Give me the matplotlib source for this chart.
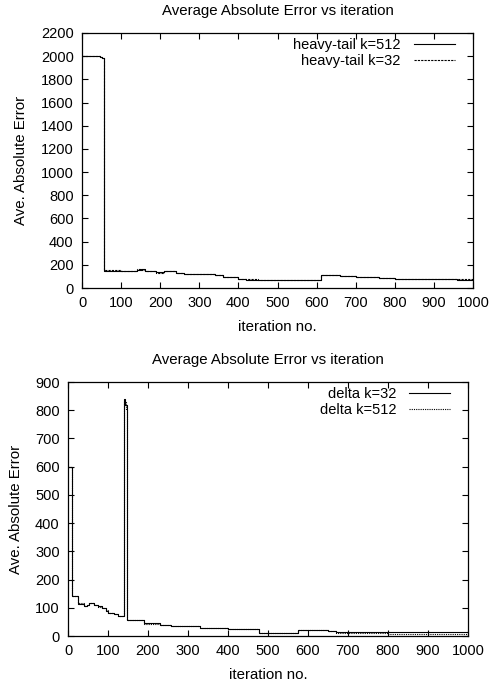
"""Average absolute error vs iteration, two gnuplot-style panels."""

import matplotlib

matplotlib.use("Agg")
import matplotlib.pyplot as plt  # noqa: E402

plt.rcParams["font.family"] = ["Liberation Sans", "DejaVu Sans"]

# heavy-tail panel: step breakpoints (iteration, error)
ht512_x = [0, 45, 50, 55, 100, 140, 150, 160, 190, 210, 240, 260, 300, 340, 360,
           400, 420, 450, 540, 600, 612, 660, 700, 760, 800, 880, 940, 960, 1000]
ht512_y = [2000, 1995, 1985, 150, 150, 155, 160, 148, 135, 145, 130, 120, 118, 110, 95,
           80, 72, 67, 70, 65, 110, 105, 95, 85, 80, 75, 80, 72, 72]
ht32_x = [0, 45, 50, 55, 100, 140, 150, 160, 190, 210, 240, 260, 300, 340, 360,
          400, 420, 450, 540, 600, 612, 660, 700, 760, 800, 880, 940, 960, 1000]
ht32_y = [2000, 1995, 1985, 152, 148, 160, 158, 150, 133, 148, 128, 122, 120, 112, 96,
          82, 74, 66, 72, 66, 112, 108, 98, 88, 82, 78, 82, 74, 74]

# delta panel
d32_x = [0, 9, 25, 40, 48, 52, 65, 75, 85, 95, 100, 115, 125, 139, 143, 148,
         190, 230, 258, 330, 400, 478, 575, 650, 670, 800, 1000]
d32_y = [600, 142, 115, 105, 110, 118, 110, 105, 100, 90, 80, 78, 70, 840, 820, 57,
         45, 40, 35, 30, 25, 10, 20, 17, 13, 15, 15]
d512_x = [0, 9, 25, 40, 48, 52, 65, 75, 85, 95, 100, 115, 125, 141, 145, 147,
          190, 230, 258, 330, 400, 478, 575, 650, 670, 800, 900, 1000]
d512_y = [600, 140, 117, 106, 111, 117, 111, 104, 99, 92, 82, 77, 71, 830, 800, 58,
          43, 40, 34, 30, 24, 11, 20, 16, 12, 8, 6, 6]

TITLE = "Average Absolute Error vs iteration"


def style_axes(ax, ymax, ystep):
    ax.set_xlim(0, 1000)
    ax.set_ylim(0, ymax)
    ax.set_xticks(range(0, 1001, 100))
    ax.set_yticks(range(0, ymax + 1, ystep))
    ax.tick_params(direction="in", top=True, right=True, length=4, width=0.8,
                   labelsize=10.5, pad=6)
    for sp in ax.spines.values():
        sp.set_linewidth(0.9)
    ax.set_title(TITLE, fontsize=10.8, pad=13)
    ax.set_xlabel("iteration no.", fontsize=10.8, labelpad=7)
    ax.set_ylabel("Ave. Absolute Error", fontsize=10.8, labelpad=9)


def add_legend(ax, anchor):
    ax.legend(loc="upper right", frameon=False, markerfirst=False, fontsize=10.5,
              handlelength=2.8, handletextpad=0.9, labelspacing=0.15,
              borderaxespad=0, bbox_to_anchor=anchor)


fig = plt.figure(figsize=(4.94, 6.83), dpi=100)

ax1 = fig.add_axes([0.166, 0.5783, 0.7915, 0.3734])
ax1.step(ht512_x, ht512_y, where="post", color="black", lw=0.8, label="heavy-tail k=512")
ax1.step(ht32_x, ht32_y, where="post", color="black", lw=0.8, dashes=(2, 1),
         label="heavy-tail k=32")
style_axes(ax1, 2200, 200)
add_legend(ax1, (0.968, 1.004))

ax2 = fig.add_axes([0.1377, 0.0688, 0.8097, 0.3719])
ax2.step(d32_x, d32_y, where="post", color="black", lw=0.8, label="delta k=32")
ax2.step(d512_x, d512_y, where="post", color="black", lw=0.8, dashes=(1, 1),
         label="delta k=512")
style_axes(ax2, 900, 100)
add_legend(ax2, (0.97, 1.004))

fig.savefig("out.png", dpi=100, facecolor="white")
plt.close(fig)
